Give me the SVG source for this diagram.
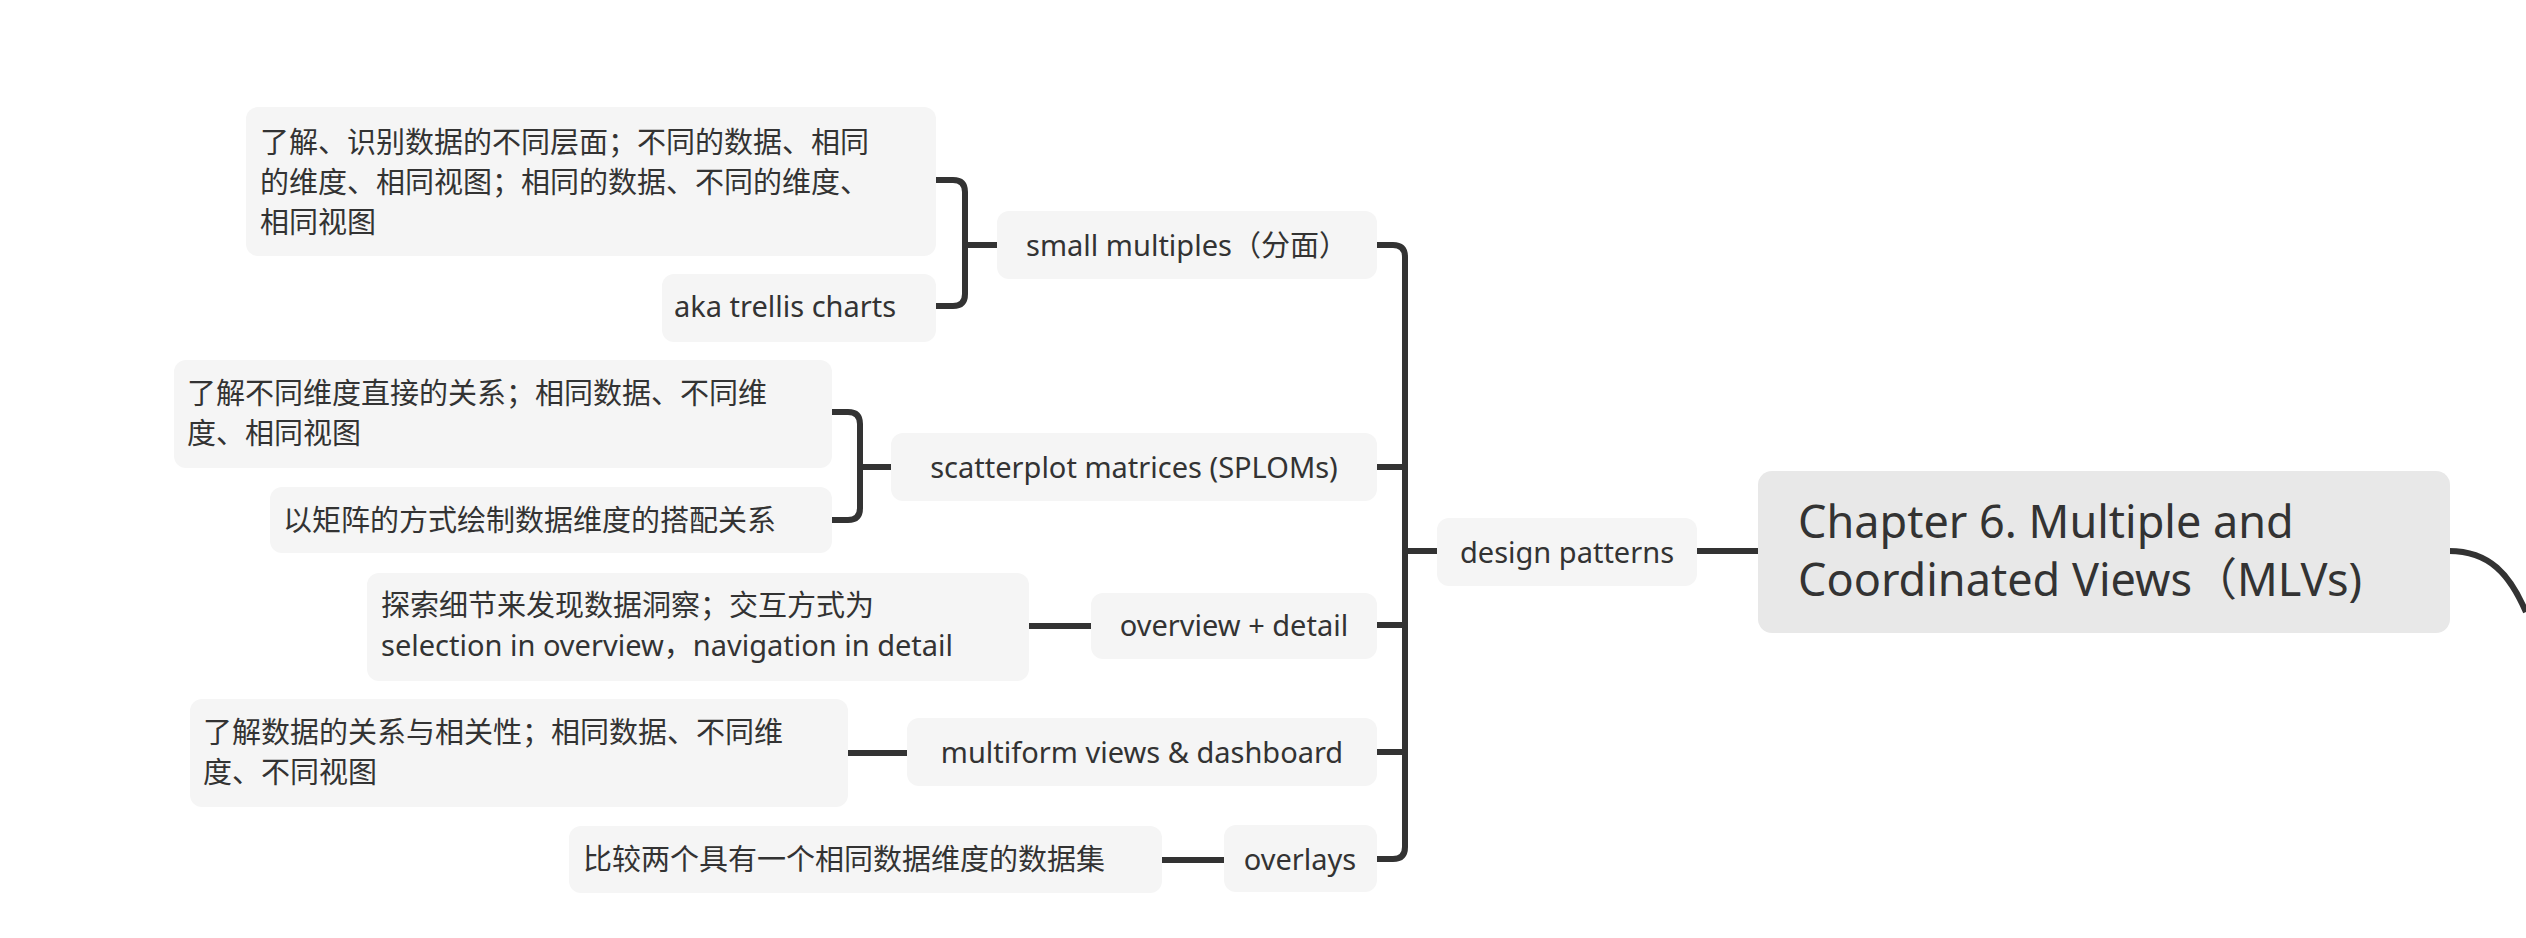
<svg xmlns="http://www.w3.org/2000/svg" width="2526" height="938" viewBox="0 0 2526 938">
<style>
.n{fill:#f5f5f5}
.r{fill:#e8e8e8}
text{font-family:"Noto Sans","Noto Sans CJK SC",sans-serif;fill:#333;font-size:29px}
.t{font-size:45px}
.c{fill:none;stroke:#333;stroke-width:6;stroke-linecap:butt}
</style>
<rect width="2526" height="938" fill="#fff"/>
<g id="connectors">
<path class="c" d="M2449,551 C2490,551 2510,575 2526,612"/>
<path class="c" d="M1758,551 H1697"/>
<path class="c" d="M1437,551 H1405"/>
<path class="c" d="M1377,245 H1393 Q1405,245 1405,257 V847 Q1405,859 1393,859 H1377"/>
<path class="c" d="M1405,467 H1377 M1405,625 H1377 M1405,752 H1377"/>
<path class="c" d="M936,180 H953 Q965,180 965,192 V294 Q965,306 953,306 H936"/>
<path class="c" d="M965,245 H997"/>
<path class="c" d="M832,412 H848 Q860,412 860,424 V508 Q860,520 848,520 H832"/>
<path class="c" d="M860,467 H891"/>
<path class="c" d="M1029,626 H1091"/>
<path class="c" d="M848,753 H907"/>
<path class="c" d="M1162,860 H1224"/>
</g>
<g id="root"><rect class="r" x="1758" y="471" width="692" height="162" rx="14"/>
<text class="t" x="1798" y="538">Chapter 6. Multiple and</text>
<text class="t" x="1798" y="596">Coordinated Views（MLVs)</text></g>
<g id="design"><rect class="n" x="1437" y="518" width="260" height="68" rx="12"/><text x="1567" y="563" text-anchor="middle">design patterns</text></g>
<g id="small"><rect class="n" x="997" y="211" width="380" height="68" rx="12"/><text x="1187" y="256" text-anchor="middle">small multiples（分面）</text></g>
<g id="splom"><rect class="n" x="891" y="433" width="486" height="68" rx="12"/><text x="1134" y="478" text-anchor="middle">scatterplot matrices (SPLOMs)</text></g>
<g id="ovd"><rect class="n" x="1091" y="593" width="286" height="66" rx="12"/><text x="1234" y="636" text-anchor="middle">overview + detail</text></g>
<g id="multi"><rect class="n" x="907" y="718" width="470" height="68" rx="12"/><text x="1142" y="763" text-anchor="middle">multiform views &amp; dashboard</text></g>
<g id="overlays"><rect class="n" x="1224" y="825" width="153" height="67" rx="12"/><text x="1300" y="870" text-anchor="middle">overlays</text></g>
<g id="l1"><rect class="n" x="246" y="107" width="690" height="149" rx="12"/>
<text x="260" y="153">了解、识别数据的不同层面；不同的数据、相同</text>
<text x="260" y="193">的维度、相同视图；相同的数据、不同的维度、</text>
<text x="260" y="233">相同视图</text></g>
<g id="l2"><rect class="n" x="662" y="274" width="274" height="68" rx="12"/><text x="674" y="317">aka trellis charts</text></g>
<g id="l3"><rect class="n" x="174" y="360" width="658" height="108" rx="12"/>
<text x="187" y="404">了解不同维度直接的关系；相同数据、不同维</text>
<text x="187" y="444">度、相同视图</text></g>
<g id="l4"><rect class="n" x="270" y="487" width="562" height="66" rx="12"/><text x="283" y="531">以矩阵的方式绘制数据维度的搭配关系</text></g>
<g id="l5"><rect class="n" x="367" y="573" width="662" height="108" rx="12"/>
<text x="381" y="616">探索细节来发现数据洞察；交互方式为</text>
<text x="381" y="656">selection in overview，navigation in detail</text></g>
<g id="l6"><rect class="n" x="190" y="699" width="658" height="108" rx="12"/>
<text x="203" y="743">了解数据的关系与相关性；相同数据、不同维</text>
<text x="203" y="783">度、不同视图</text></g>
<g id="l7"><rect class="n" x="569" y="826" width="593" height="67" rx="12"/><text x="583" y="870">比较两个具有一个相同数据维度的数据集</text></g>
</svg>
